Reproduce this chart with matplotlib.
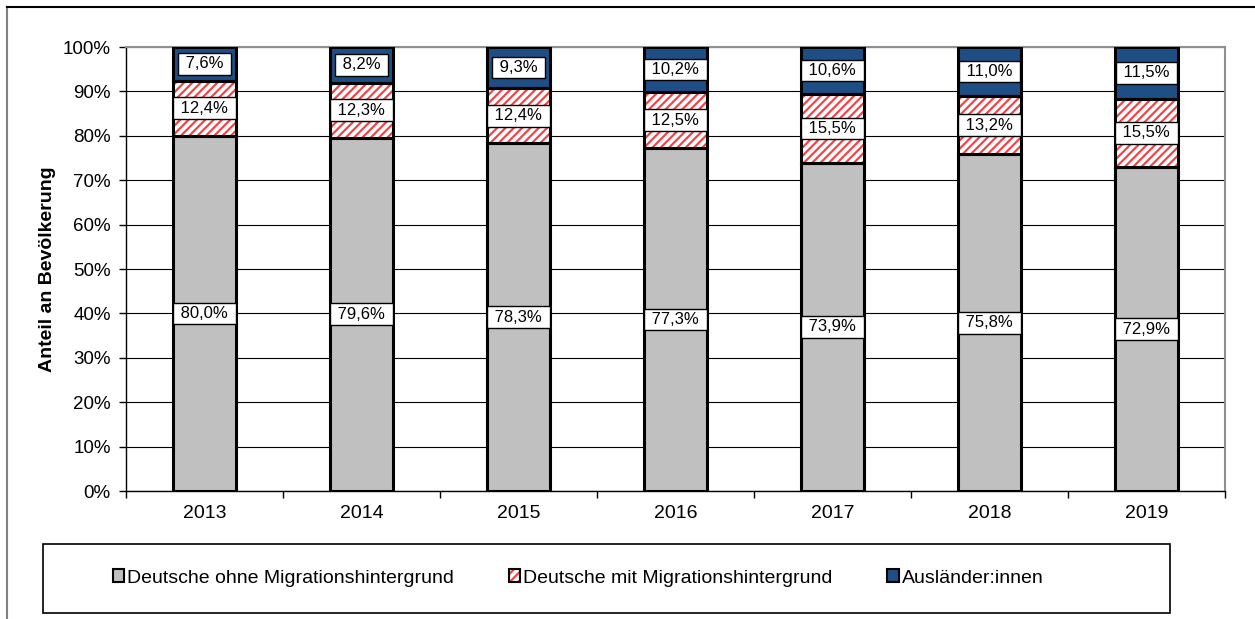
import matplotlib
matplotlib.use("Agg")
import matplotlib.pyplot as plt
from matplotlib.patches import Patch, Rectangle
from matplotlib.lines import Line2D
from matplotlib.legend_handler import HandlerTuple
import numpy as np

years = ["2013", "2014", "2015", "2016", "2017", "2018", "2019"]
ohne = [80.0, 79.6, 78.3, 77.3, 73.9, 75.8, 72.9]
mit = [12.4, 12.3, 12.4, 12.5, 15.5, 13.2, 15.5]
ausl = [7.6, 8.2, 9.3, 10.2, 10.6, 11.0, 11.5]
series_names = ["Deutsche ohne Migrationshintergrund",
                "Deutsche mit Migrationshintergrund",
                "Ausländer:innen"]
yticks = [0, 10, 20, 30, 40, 50, 60, 70, 80, 90, 100]

plt.rcParams['font.family'] = ['Liberation Sans', 'DejaVu Sans']
plt.rcParams['hatch.linewidth'] = 1.6

GREY = "#C0C0C0"
BLUE = "#1F4E85"
RED = "#F0464A"

fig = plt.figure(figsize=(12.55, 6.19), dpi=100)
ax = fig.add_axes([126/1255, 1 - 491/619, (1225-126)/1255, (491-47)/619])

x = np.arange(len(years))
w = 0.40
ohne_a = np.array(ohne)
mit_a = np.array(mit)
ausl_a = np.array(ausl)

ax.set_axisbelow(True)
ax.bar(x, ohne_a, w, color=GREY, edgecolor="black", linewidth=2.2, zorder=3)
ax.bar(x, mit_a, w, bottom=ohne_a, color="white", edgecolor=RED, hatch="////",
       linewidth=0, zorder=3)
ax.bar(x, mit_a, w, bottom=ohne_a, fill=False, edgecolor="black", linewidth=2.2, zorder=4)
ax.bar(x, ausl_a, w, bottom=ohne_a + mit_a, color=BLUE, edgecolor="black",
       linewidth=2.2, zorder=3)

def fmt(v):
    return " " + f"{v:.1f}%".replace(".", ",") + " "

box = dict(boxstyle="square,pad=0.2", facecolor="white", edgecolor="black", linewidth=1)
LBL = 12
for i in range(len(years)):
    ax.text(x[i], ohne_a[i] / 2, fmt(ohne_a[i]), ha="center", va="center",
            fontsize=LBL, bbox=box, zorder=6)
    ax.text(x[i], ohne_a[i] + mit_a[i] / 2, fmt(mit_a[i]), ha="center", va="center",
            fontsize=LBL, bbox=box, zorder=6)
    ax.text(x[i], ohne_a[i] + mit_a[i] + ausl_a[i] / 2, fmt(ausl_a[i]), ha="center",
            va="center", fontsize=LBL, bbox=box, zorder=6)

ax.set_xlim(-0.5, len(years) - 0.5)
ax.set_ylim(0, 100)
ax.set_yticks(yticks)
ax.set_yticklabels([f"{t}%" for t in yticks], fontsize=13.5)
ax.grid(axis="y", color="black", linewidth=0.8, zorder=0)
ax.tick_params(axis="y", direction="out", length=5, width=1, pad=6)

ax.set_xticks(np.arange(-0.5, len(years), 1.0))
ax.set_xticklabels([])
ax.set_xticks(x, minor=True)
ax.set_xticklabels(years, minor=True, fontsize=14)
ax.tick_params(axis="x", which="major", direction="out", length=5, width=1)
ax.tick_params(axis="x", which="minor", length=0, pad=10)

for s in ["left", "bottom"]:
    ax.spines[s].set_color("black")
    ax.spines[s].set_linewidth(1)
for s in ["top", "right"]:
    ax.spines[s].set_color("#909090")
    ax.spines[s].set_linewidth(1.5)

ax.set_ylabel("Anteil an Bevölkerung", fontsize=14, fontweight="bold")
ax.yaxis.set_label_coords(-0.064, 0.5)

fig.patches.append(Rectangle((43/1255, 1 - 613/619), (1170-43)/1255, (613-544)/619,
                             transform=fig.transFigure, fill=False,
                             edgecolor="black", linewidth=1.2))
handles = [Patch(facecolor=GREY, edgecolor="black", linewidth=1.5),
           (Patch(facecolor="white", edgecolor=RED, hatch="////", linewidth=0),
            Patch(fill=False, edgecolor="black", linewidth=1.5)),
           Patch(facecolor=BLUE, edgecolor="black", linewidth=1.5)]
leg = fig.legend(handles, series_names, loc="center", ncol=3,
                 bbox_to_anchor=(578/1255, 1 - 578/619), frameon=False,
                 fontsize=14, handlelength=0.6, handleheight=0.6,
                 handletextpad=0.15, columnspacing=2.8,
                 handler_map={tuple: HandlerTuple(ndivide=1, pad=0)})

fig.add_artist(Line2D([7/1255, 7/1255], [0, 1 - 7/619], transform=fig.transFigure,
                      color="#808080", linewidth=1.5))
fig.add_artist(Line2D([7/1255, 1], [1 - 7/619, 1 - 7/619], transform=fig.transFigure,
                      color="black", linewidth=1.5))

fig.savefig("out.png", dpi=100)
